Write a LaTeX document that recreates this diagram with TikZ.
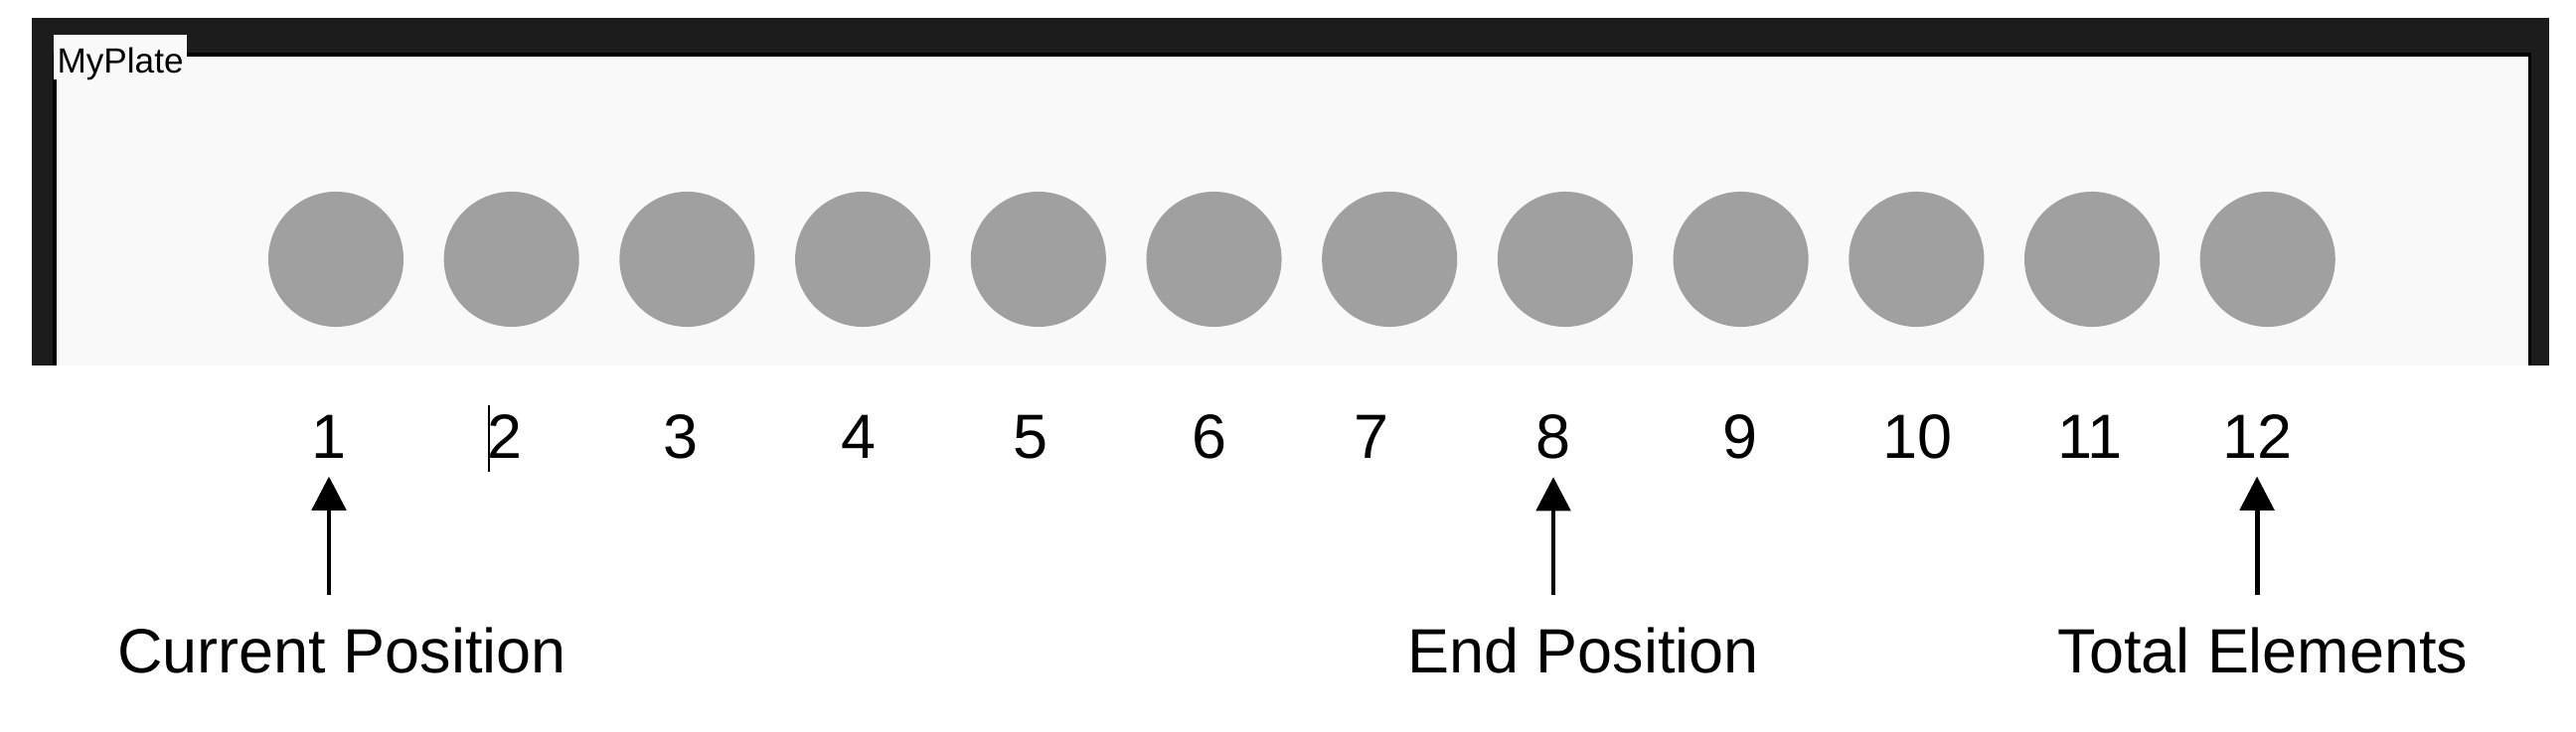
\documentclass[tikz,border=0pt]{standalone}
\usepackage{fontspec}
\setmainfont{Liberation Sans}
\definecolor{frameDark}{HTML}{1C1C1C}
\definecolor{plateBg}{HTML}{F9F9F9}
\definecolor{wellGray}{HTML}{A0A0A0}
\usetikzlibrary{arrows.meta, positioning}

\begin{document}
\begin{tikzpicture}[x=0.01cm, y=-0.01cm,
    wellDot/.style={fill=wellGray},
    posNum/.style={anchor=base, font=\fontsize{17.9}{20}\selectfont, inner sep=5.1pt},
    posLabel/.style={anchor=base, font=\fontsize{17.9}{20}\selectfont, inner sep=9.1pt},
    pointer/.style={-{Triangle[length=9.7pt, width=9.7pt]}, line width=1.4pt}]
  \useasboundingbox (0,0) rectangle (2592,736);
  % plate frame
  \fill[frameDark] (32,18) rectangle (2565,368);
  \fill[black] (53,53) rectangle (2547,368);
  \fill[plateBg] (57,57) rectangle (2544,368);
  \node (plateName) [anchor=base west, fill=plateBg, inner xsep=1.1pt, inner ysep=0pt,
        text height=10.8pt, text depth=2pt, font=\fontsize{10}{12}\selectfont] at (53,73) {MyPlate};
  % wells
  \foreach \i in {1,...,12}
    \fill[wellDot] ({338+176.7*(\i-1)},261) circle[radius=0.68cm];
  % position numbers
  \foreach \i/\px in {1/331, 2/508, 3/685, 4/864, 5/1037, 6/1217,
                      7/1380, 8/1563, 9/1751, 10/1929, 11/2103, 12/2271}
    \node (num\i) [posNum] at (\px,461) {\i};
  % text cursor
  \draw[line width=0.6pt] (492,408) -- (492,475);
  % labels
  \node (curPos) [posLabel] at (344,677) {Current Position};
  \node (endPos) [posLabel] at (1593,677) {End Position};
  \node (totElem) [posLabel] at (2277,677) {Total Elements};
  % pointers
  \draw[pointer] (curPos.north -| num1.south) -- (num1.south);
  \draw[pointer] (endPos.north -| num8.south) -- (num8.south);
  \draw[pointer] (totElem.north -| num12.south) -- (num12.south);
\end{tikzpicture}
\end{document}
